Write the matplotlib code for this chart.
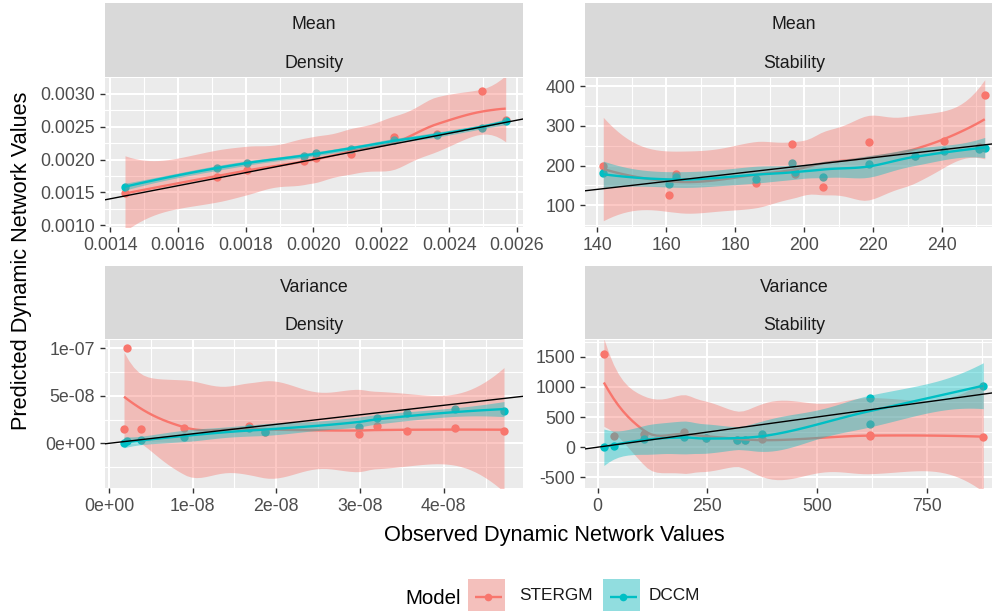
import math
import numpy as np
import matplotlib
matplotlib.use("Agg")
import matplotlib.pyplot as plt
from matplotlib.patches import Rectangle

plt.rcParams['font.family'] = ['Liberation Sans', 'DejaVu Sans']

# ---------------- data ----------------
models = ["STERGM", "DCCM"]

# Mean / Density
md_obs = [0.001444, 0.001716, 0.001805, 0.001973, 0.002007, 0.002111, 0.002238, 0.002363, 0.002498, 0.002567]
md_stergm = [0.001483, 0.001738, 0.001840, 0.001982, 0.002020, 0.002079, 0.002338, 0.002384, 0.003051, 0.002603]
md_dccm = [0.001585, 0.001870, 0.001952, 0.002060, 0.002094, 0.002160, 0.002298, 0.002374, 0.002476, 0.002593]

# Mean / Stability
ms_obs = [141.7, 160.7, 162.8, 186.1, 196.5, 197.3, 205.6, 218.7, 232.3, 240.5, 250.8, 252.4]
ms_stergm = [198, 126, 178, 156, 255, 180, 145, 260, 223, 261, 248, 378]
ms_dccm = [181, 153, 170, 165, 206, 185, 172, 205, 224, 238, 243, 244]

# Variance / Density
vd_obs = [1.8e-9, 2.1e-9, 3.8e-9, 9.0e-9, 1.67e-8, 1.87e-8, 2.99e-8, 3.20e-8, 3.56e-8, 4.13e-8, 4.72e-8]
vd_stergm = [1.47e-8, 1.0e-7, 1.47e-8, 1.58e-8, 1.82e-8, 1.20e-8, 0.98e-8, 1.82e-8, 1.33e-8, 1.65e-8, 1.33e-8]
vd_dccm = [0.0, 0.2e-8, 0.4e-8, 0.63e-8, 1.6e-8, 1.23e-8, 1.75e-8, 2.7e-8, 3.16e-8, 3.58e-8, 3.4e-8]

# Variance / Stability
vs_obs = [14, 38, 106, 197, 246, 317, 335, 374, 621, 621, 879]
vs_stergm = [1545, 191, 214, 257, 147, 120, 125, 131, 186, 200, 174]
vs_dccm = [9, 20, 133, 164, 150, 120, 122, 219, 821, 380, 1019]

# tick values / labels
md_xticks = [0.0014, 0.0016, 0.0018, 0.0020, 0.0022, 0.0024, 0.0026]
md_xlabels = ["0.0014", "0.0016", "0.0018", "0.0020", "0.0022", "0.0024", "0.0026"]
md_yticks = [0.0010, 0.0015, 0.0020, 0.0025, 0.0030]
md_ylabels = ["0.0010", "0.0015", "0.0020", "0.0025", "0.0030"]

ms_xticks = [140, 160, 180, 200, 220, 240]
ms_xlabels = ["140", "160", "180", "200", "220", "240"]
ms_yticks = [100, 200, 300, 400]
ms_ylabels = ["100", "200", "300", "400"]

vd_xticks = [0.0, 1e-8, 2e-8, 3e-8, 4e-8]
vd_xlabels = ["0e+00", "1e-08", "2e-08", "3e-08", "4e-08"]
vd_yticks = [0.0, 5e-8, 1e-7]
vd_ylabels = ["0e+00", "5e-08", "1e-07"]

vs_xticks = [0, 250, 500, 750]
vs_xlabels = ["0", "250", "500", "750"]
vs_yticks = [-500, 0, 500, 1000, 1500]
vs_ylabels = ["-500", "0", "500", "1000", "1500"]

# ---------------- style ----------------
RED = "#F8766D"
CYAN = "#00BFC4"
W, H = 992, 611
DPI = 100


def t_quantile(p, df):
    c = math.exp(math.lgamma((df + 1) / 2) - math.lgamma(df / 2)) / math.sqrt(df * math.pi)
    ts = np.linspace(0, 60, 300001)
    pdf = c * (1 + ts ** 2 / df) ** (-(df + 1) / 2)
    cdf = 0.5 + np.concatenate([[0.0], np.cumsum((pdf[1:] + pdf[:-1]) / 2 * np.diff(ts))])
    return float(np.interp(p, cdf, ts))


def loess(x, y, n_grid=80, span=0.75):
    """R-style loess (degree 2, kd-tree vertices + cubic Hermite interpolation)."""
    x = np.asarray(x, float)
    y = np.asarray(y, float)
    lo, hi = x.min(), x.max()
    xs = (x - lo) / (hi - lo)
    n = len(xs)
    q = int(np.floor(n * span))

    def ops(x0):
        d = np.abs(xs - x0)
        h = np.sort(d)[q - 1]
        w = np.where(d < h, (1 - (d / h) ** 3) ** 3, 0.0)
        X = np.column_stack([np.ones(n), xs - x0, (xs - x0) ** 2])
        XtW = X.T * w
        B = np.linalg.solve(XtW @ X, XtW)
        return B[0], B[1]

    mu = 0.005
    order = np.sort(xs)
    verts = {-mu, 1 + mu}
    fc = int(np.floor(n * span * 0.2))

    def build(l, u, vlo, vhi):
        if u - l + 1 <= fc:
            return
        m = (l + u) // 2
        xi = order[m]
        if xi == vlo or xi == vhi:
            return
        verts.add(xi)
        build(l, m, vlo, xi)
        build(m + 1, u, xi, vhi)

    build(0, n - 1, -mu, 1 + mu)
    V = np.array(sorted(verts))
    Lv, Sv = zip(*[ops(v) for v in V])
    Lv = np.array(Lv)
    Sv = np.array(Sv)

    def row(z):
        i = int(np.searchsorted(V, z, side="right") - 1)
        i = min(max(i, 0), len(V) - 2)
        v0, v1 = V[i], V[i + 1]
        hh = v1 - v0
        u = (z - v0) / hh
        phi0 = (1 - u) ** 2 * (1 + 2 * u)
        phi1 = u ** 2 * (3 - 2 * u)
        psi0 = u * (1 - u) ** 2
        psi1 = -u ** 2 * (1 - u)
        return phi0 * Lv[i] + phi1 * Lv[i + 1] + hh * (psi0 * Sv[i] + psi1 * Sv[i + 1])

    L = np.array([row(v) for v in xs])
    res = y - L @ y
    trL = np.trace(L)
    dk = 3
    corx = math.sqrt(dk / n)
    z = (math.sqrt(dk / trL) - corx) / (1 - corx)
    z = min(1.0, max(0.0, z))
    c4 = math.exp(z)
    d1 = n - trL * math.exp(0.1611761 * z ** 0.3091323 * (1 - z) ** 0.4401023 * c4)
    d2 = n - trL * math.exp(0.2075670 * z ** 0.2822574 * (1 - z) ** 0.2369957 * c4)
    s = math.sqrt(np.sum(res ** 2) / d1)
    dfr = d1 ** 2 / d2
    tq = t_quantile(0.975, dfr)
    g = np.linspace(0, 1, n_grid)
    Lg = np.array([row(v) for v in g])
    fit = Lg @ y
    se = s * np.sqrt(np.sum(Lg ** 2, axis=1))
    return lo + g * (hi - lo), fit, fit - tq * se, fit + tq * se


def rect(x0, y0, x1, y1):
    return [x0 / W, 1 - y1 / H, (x1 - x0) / W, (y1 - y0) / H]


fig = plt.figure(figsize=(W / DPI, H / DPI), dpi=DPI)
fig.patch.set_facecolor("white")

panels = [
    dict(pos=(105, 78, 523, 227), strip=(105, 3, 523, 77), labels=("Mean", "Density"),
         obs=md_obs, red=md_stergm, cyan=md_dccm,
         xlim=(0.001385, 0.002618), ylim=(0.00097, 0.003244),
         xt=md_xticks, xl=md_xlabels, yt=md_yticks, yl=md_ylabels),
    dict(pos=(585, 78, 1003, 227), strip=(585, 3, 1003, 77), labels=("Mean", "Stability"),
         obs=ms_obs, red=ms_stergm, cyan=ms_dccm,
         xlim=(136.4, 257.7), ylim=(45, 421),
         xt=ms_xticks, xl=ms_xlabels, yt=ms_yticks, yl=ms_ylabels),
    dict(pos=(105, 340, 523, 488), strip=(105, 266, 523, 339), labels=("Variance", "Density"),
         obs=vd_obs, red=vd_stergm, cyan=vd_dccm,
         xlim=(-4.7e-10, 4.947e-8), ylim=(-4.7e-8, 1.087e-7),
         xt=vd_xticks, xl=vd_xlabels, yt=vd_yticks, yl=vd_ylabels),
    dict(pos=(585, 340, 1003, 488), strip=(585, 266, 1003, 339), labels=("Variance", "Stability"),
         obs=vs_obs, red=vs_stergm, cyan=vs_dccm,
         xlim=(-29, 924), ylim=(-677, 1777),
         xt=vs_xticks, xl=vs_xlabels, yt=vs_yticks, yl=vs_ylabels),
]

TICK_FS = 12.8
for p in panels:
    ax = fig.add_axes(rect(*p["pos"]))
    ax.set_facecolor("#EBEBEB")
    for s in ax.spines.values():
        s.set_visible(False)
    ax.set_xlim(*p["xlim"])
    ax.set_ylim(*p["ylim"])
    ax.set_xticks(p["xt"])
    ax.set_xticklabels(p["xl"])
    ax.set_yticks(p["yt"])
    ax.set_yticklabels(p["yl"])
    xt = np.array(p["xt"], float)
    yt = np.array(p["yt"], float)
    dx = xt[1] - xt[0]
    dy = yt[1] - yt[0]
    xminor = np.arange(xt[0] - dx / 2, p["xlim"][1], dx)
    yminor = np.arange(yt[0] - dy / 2, p["ylim"][1], dy)
    ax.set_xticks(xminor[(xminor > p["xlim"][0])], minor=True)
    ax.set_yticks(yminor[(yminor > p["ylim"][0])], minor=True)
    ax.tick_params(axis="both", which="major", length=3.6, width=1.0, color="#333333",
                   labelcolor="#4D4D4D", labelsize=TICK_FS, pad=3.5)
    ax.tick_params(axis="both", which="minor", length=0)
    ax.grid(True, which="major", color="white", lw=1.45)
    ax.grid(True, which="minor", color="white", lw=0.8)
    ax.set_axisbelow(True)

    ax.scatter(p["obs"], p["red"], s=36, color=RED, zorder=2, linewidths=0)
    ax.scatter(p["obs"], p["cyan"], s=36, color=CYAN, zorder=2, linewidths=0)
    for ys, col, z in ((p["red"], RED, 3), (p["cyan"], CYAN, 5)):
        gx, fit, lo, hi = loess(p["obs"], ys)
        ax.fill_between(gx, lo, hi, color=col, alpha=0.4, lw=0, zorder=z)
        ax.plot(gx, fit, color=col, lw=1.7, zorder=z + 0.5, solid_capstyle="butt")
    ax.axline((0, 0), slope=1, color="black", lw=1.0, zorder=8)

    sax = fig.add_axes(rect(*p["strip"]))
    sax.set_facecolor("#D9D9D9")
    sax.set_xticks([])
    sax.set_yticks([])
    for s in sax.spines.values():
        s.set_visible(False)
    sax.text(0.5, 0.71, p["labels"][0], ha="center", va="center", fontsize=TICK_FS,
             color="#1A1A1A", transform=sax.transAxes)
    sax.text(0.5, 0.185, p["labels"][1], ha="center", va="center", fontsize=TICK_FS,
             color="#1A1A1A", transform=sax.transAxes)

fig.text(554 / W, 1 - 536 / H, "Observed Dynamic Network Values", ha="center", va="center",
         fontsize=15.7, color="black")
fig.text(22 / W, 1 - 261 / H, "Predicted Dynamic Network Values", ha="center", va="center",
         rotation=90, fontsize=15.7, color="black")

# ---------------- legend ----------------
fig.text(405 / W, 1 - 598 / H, "Model", ha="left", va="center", fontsize=14.8, color="black")
key_boxes = [(468, 579, 505, 615), (603, 579, 640, 615)]
label_x = [519, 649]
for name, col, kb, lx in zip(models, (RED, CYAN), key_boxes, label_x):
    kax = fig.add_axes(rect(*kb))
    kax.set_xlim(0, 1)
    kax.set_ylim(0, 1)
    kax.axis("off")
    kax.add_patch(Rectangle((0, 0), 1, 1, facecolor="#F2F2F2", edgecolor="none"))
    kax.add_patch(Rectangle((0, 0), 1, 1, facecolor=col, alpha=0.4, edgecolor="none"))
    kax.plot([0.18, 0.92], [0.5, 0.5], color=col, lw=1.7, solid_capstyle="butt")
    kax.plot([0.55], [0.5], "o", color=col, ms=5.5, mew=0)
    fig.text(lx / W, 1 - 596 / H, name, ha="left", va="center", fontsize=12.4, color="#1A1A1A")

fig.savefig("out.png", dpi=DPI, facecolor="white")
